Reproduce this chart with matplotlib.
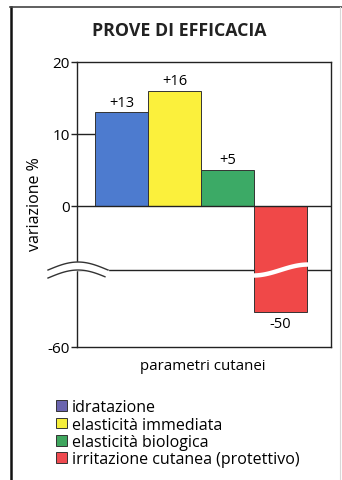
import numpy as np
import matplotlib
matplotlib.use("Agg")
import matplotlib.pyplot as plt
from matplotlib.patches import Patch
from matplotlib.lines import Line2D

# dati della prova
categorie = ["idratazione", "elasticità immediata", "elasticità biologica",
             "irritazione cutanea (protettivo)"]
valori = [13, 16, 5, -50]
etichette = ["+13", "+16", "+5", "-50"]
yticks = [20, 10, 0, -60]

colori_barre = ["#4d7bcf", "#fbf03c", "#3caa66", "#f04848"]
colori_legenda = ["#6a64ae", "#f6ee3b", "#3fa65e", "#ef4a50"]

plt.rcParams["font.family"] = ["Open Sans", "DejaVu Sans"]

# asse y spezzato: sopra -8.9 scala normale, sotto -38 scala compressa
BRK_HI, BRK_LO = -8.9, -38.0
K = 3.5 / 7.2


def fwd(y):
    y = np.asarray(y, dtype=float)
    return np.where(y >= BRK_HI, y,
                    np.where(y <= BRK_LO, BRK_HI + (y - BRK_LO) * K, BRK_HI))


def inv(t):
    t = np.asarray(t, dtype=float)
    return np.where(t >= BRK_HI, t, BRK_LO + (t - BRK_HI) / K)


W, H = 342, 481
fig = plt.figure(figsize=(W / 100, H / 100), dpi=100)
fig.patch.set_facecolor("white")


def px(x, y):
    return x / W, 1 - y / H


# cornice
fig.add_artist(Line2D([11 / W, 11 / W], [0, 1 - 8 / H], color="#111111", lw=1.8))
fig.add_artist(Line2D([10 / W, 1], [1 - 8 / H, 1 - 8 / H], color="#444444", lw=1.2))
fig.add_artist(Line2D([340 / W, 340 / W], [0, 1 - 8 / H], color="#d8d8d8", lw=0.8))

ax = fig.add_axes([77 / W, 1 - 348 / H, 254 / W, 285 / H])
ax.set_yscale("function", functions=(fwd, inv))
ax.set_ylim(-60, 20)
ax.set_xlim(-0.84, 3.95)

x = np.arange(len(valori))
bars = ax.bar(x, valori, width=1.0, color=colori_barre, edgecolor="#333333",
              linewidth=0.7, zorder=2)

for b, v, lab in zip(bars, valori, etichette):
    cx = b.get_x() + b.get_width() / 2
    if v >= 0:
        ax.annotate(lab, (cx, v), xytext=(0, 2), textcoords="offset points",
                    ha="center", va="bottom", fontsize=10.5)
    else:
        ax.annotate(lab, (cx, v), xytext=(0, -3), textcoords="offset points",
                    ha="center", va="top", fontsize=10.5)

ax.axhline(0, color="#222222", lw=1.0, zorder=3)
ax.axhline(BRK_HI, color="#222222", lw=1.0, zorder=1.5)
# trattino a 10 fino alla prima barra
ax.hlines(10, -0.84, x[0] - 0.5, color="#222222", lw=1.0, zorder=1.5)

ax.set_yticks(yticks)
ax.set_yticklabels([str(t) for t in yticks], fontsize=11)
ax.set_xticks([])
ax.tick_params(axis="y", length=4, width=1.0, pad=1, color="#222222")
for s in ax.spines.values():
    s.set_color("#222222")
    s.set_linewidth(1.0)

# simbolo di interruzione a sinistra
y_brk_ax = (fwd(BRK_HI) - fwd(-60)) / (fwd(20) - fwd(-60))
ahp = 285.0
xs = np.linspace(48, 108, 80)
y_up = 271 - 8 * np.sin(np.pi * (xs - 48) / 60)
y_dn = y_up + 8
xa = (xs - 77) / 254
ya_up = y_brk_ax - (y_up - 271) / ahp
ya_dn = y_brk_ax - (y_dn - 271) / ahp
ax.fill_between(xa, ya_dn, ya_up, color="white", transform=ax.transAxes,
                clip_on=False, zorder=5)
ax.plot(xa, ya_up, color="#333333", lw=1.0, transform=ax.transAxes, clip_on=False, zorder=6)
ax.plot(xa[:-4], ya_dn[:-4], color="#333333", lw=1.0, transform=ax.transAxes, clip_on=False, zorder=6)

# interruzione sulla barra rossa
rb = bars[3]
xr = np.linspace(rb.get_x() - 0.02, rb.get_x() + rb.get_width() + 0.02, 60)
tr = (xr - xr[0]) / (xr[-1] - xr[0])
yr_px = 271 + 5.5 * np.cos(np.pi * tr)
yr_ax = y_brk_ax - (yr_px - 271) / ahp
ax.plot(xr, yr_ax, color="white", lw=3.2, solid_capstyle="butt",
        transform=ax.get_xaxis_transform(), clip_on=False, zorder=4)

fig.text(*px(35, 204), "variazione %", rotation=90, ha="center", va="center", fontsize=11.5)
fig.text(*px(203, 366), "parametri cutanei", ha="center", va="center", fontsize=10.8)
fig.text(*px(179, 31), "PROVE DI EFFICACIA", ha="center", va="center",
         fontsize=12.8, fontweight="bold", color="#222222")

handles = [Patch(facecolor=c, edgecolor="#333333", linewidth=0.7) for c in colori_legenda]
fig.legend(handles, categorie, loc="upper left", bbox_to_anchor=px(50, 394),
           frameon=False, fontsize=11.5, handlelength=0.65, handleheight=0.65,
           handletextpad=0.3, labelspacing=0.08, borderaxespad=0)

fig.savefig("out.png", dpi=100)
